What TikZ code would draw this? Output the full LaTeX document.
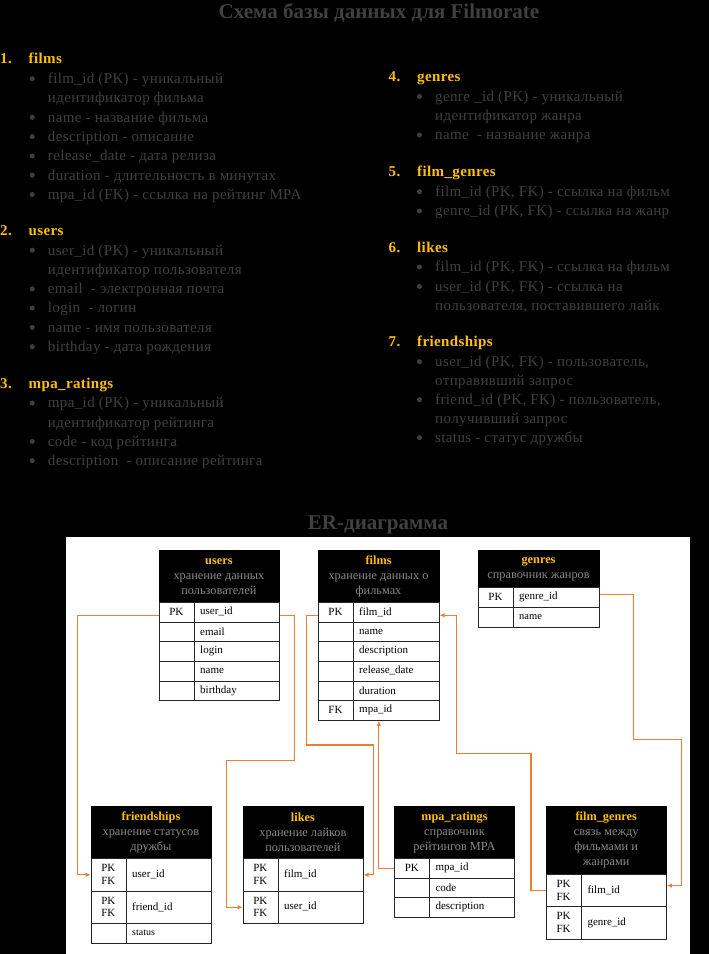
\documentclass[tikz,border=0pt]{standalone}
\usepackage{fontspec}
\setmainfont{Liberation Serif}
\newfontfamily\listfont[LetterSpace=2.5]{Liberation Serif}
\usetikzlibrary{arrows.meta}
\definecolor{hdr}{HTML}{FFC000}
\definecolor{bodyc}{HTML}{404040}
\definecolor{subc}{HTML}{8A8A8A}
\definecolor{connc}{HTML}{ED7D31}
\tikzset{
  titletext/.style={text=bodyc, font=\fontsize{21}{24}\selectfont\bfseries, inner sep=0},
  listnum/.style={anchor=base west, text=hdr, font=\listfont\fontsize{15}{17}\selectfont\bfseries, inner sep=0},
  listitem/.style={anchor=base west, text=bodyc, font=\listfont\fontsize{15}{17}\selectfont, inner sep=0},
  bulletdot/.style={circle, fill=bodyc, draw=none, inner sep=0, minimum size=5pt},
  hdrbox/.style={draw=black, fill=black, anchor=north west, inner sep=0, align=center, text=subc, font=\fontsize{12.3}{15}\selectfont},
  rowbox/.style={draw=black!85, line width=0.9pt, fill=white, anchor=north west, inner sep=0},
  rowline/.style={draw=black!85, line width=0.9pt},
  keytext/.style={align=center, inner sep=0, font=\fontsize{11}{12.5}\selectfont},
  fieldtext/.style={anchor=west, inner sep=0, font=\fontsize{11}{13}\selectfont},
  conn/.style={draw=connc, line width=1.3pt},
  connarrow/.style={conn, -{Latex[length=5pt,width=4.5pt]}},
}
\newcommand\lhead[5]{\node[listnum] (#1n) at (#2,#4) {#3}; \node[listnum] (#1) at (#2+28.5,#4) {#5};}
\newcommand\litem[4]{\node[bulletdot] (#1b) at (#2-15.5,#3-4.8) {}; \node[listitem] (#1) at (#2,#3) {#4};}
\newcommand\lcont[4]{\node[listitem] (#1) at (#2,#3) {#4};}
\newcommand\setT[3]{\def\tL{#1}\def\tR{#2}\def\tD{#3}\pgfmathsetmacro\tW{#2-#1}}
\newcommand\ehdr[4]{\pgfmathsetmacro\hh{#3-#2}%
  \node[hdrbox, minimum width=\tW pt, minimum height=\hh pt] (#1) at (\tL,#2) {#4};}
\newcommand\trow[6][]{\pgfmathsetmacro\hh{#4-#3}%
  \node[rowbox, minimum width=\tW pt, minimum height=\hh pt] (#2) at (\tL,#3) {};
  \draw[rowline] (\tD,#3) -- (\tD,#4);
  \node[keytext] (#2k) at ({(\tL+\tD)/2},{(#3+#4)/2}) {#5};
  \node[fieldtext,#1] (#2f) at (\tD+6,{(#3+#4)/2}) {#6};}
\begin{document}
\begin{tikzpicture}[x=1pt,y=-1pt]
\useasboundingbox (0,0) rectangle (709,954);
\fill[black] (0,0) rectangle (709,954);
\node[titletext] (title) at (379,13) {Схема базы данных для Filmorate};
% ---- left column ----
\lhead{h1}{0}{1.}{63.3}{films}
\litem{a1}{47.7}{83.5}{film\_id (PK) - уникальный}
\lcont{a1c}{47.7}{102.8}{идентификатор фильма}
\litem{a2}{47.7}{122.1}{name - название фильма}
\litem{a3}{47.7}{141.4}{description - описание}
\litem{a4}{47.7}{160.7}{release\_date - дата релиза}
\litem{a5}{47.7}{180}{duration - длительность в минутах}
\litem{a6}{47.7}{199.3}{mpa\_id (FK) - ссылка на рейтинг MPA}
\lhead{h2}{0}{2.}{235.7}{users}
\litem{b1}{47.7}{255}{user\_id (PK) - уникальный}
\lcont{b1c}{47.7}{274.3}{идентификатор пользователя}
\litem{b2}{47.7}{293.6}{email\ \ - электронная почта}
\litem{b3}{47.7}{312.9}{login\ \ - логин}
\litem{b4}{47.7}{332.2}{name - имя пользователя}
\litem{b5}{47.7}{351.5}{birthday - дата рождения}
\lhead{h3}{0}{3.}{388.7}{mpa\_ratings}
\litem{c1}{47.7}{407.8}{mpa\_id (PK) - уникальный}
\lcont{c1c}{47.7}{427}{идентификатор рейтинга}
\litem{c2}{47.7}{446.2}{code - код рейтинга}
\litem{c3}{47.7}{465.5}{description\ \ - описание рейтинга}
% ---- right column ----
\lhead{h4}{388.5}{4.}{81}{genres}
\litem{d1}{435}{101.3}{genre \_id (PK) - уникальный}
\lcont{d1c}{435}{120.5}{идентификатор жанра}
\litem{d2}{435}{139.8}{name\ \ - название жанра}
\lhead{h5}{388.5}{5.}{176.7}{film\_genres}
\litem{e1}{435}{196.5}{film\_id (PK, FK) - ссылка на фильм}
\litem{e2}{435}{215.8}{genre\_id (PK, FK) - ссылка на жанр}
\lhead{h6}{388.5}{6.}{252.7}{likes}
\litem{f1}{435}{271.8}{film\_id (PK, FK) - ссылка на фильм}
\litem{f2}{435}{291.2}{user\_id (PK, FK) - ссылка на}
\lcont{f2c}{435}{310}{пользователя, поставившего лайк}
\lhead{h7}{388.5}{7.}{346.7}{friendships}
\litem{g1}{435}{366.5}{user\_id (PK, FK) - пользователь,}
\lcont{g1c}{435}{385}{отправивший запрос}
\litem{g2}{435}{404.5}{friend\_id (PK, FK) - пользователь,}
\lcont{g2c}{435}{423}{получивший запрос}
\litem{g3}{435}{442.5}{status - статус дружбы}
% ---- ER diagram ----
\node[titletext] (ertitle) at (378,525) {ER-диаграмма};
\fill[white] (66,537) rectangle (690,954);
% users
\setT{158.7}{278.7}{194}
\ehdr{usersH}{550}{602}{{\color{hdr}\bfseries users}\\хранение данных\\пользователей}
\trow{usersR1}{602}{621.7}{PK}{user\_id}
\trow{usersR2}{621.7}{641.3}{}{email}
\trow{usersR3}{641.3}{661}{}{login}
\trow{usersR4}{661}{680.7}{}{name}
\trow{usersR5}{680.7}{700.3}{}{birthday}
% films
\setT{318}{438.7}{353}
\ehdr{filmsH}{550}{602}{{\color{hdr}\bfseries films}\\хранение данных о\\фильмах}
\trow{filmsR1}{602}{621.7}{PK}{film\_id}
\trow{filmsR2}{621.7}{641.3}{}{name}
\trow{filmsR3}{641.3}{661}{}{description}
\trow{filmsR4}{661}{680.7}{}{release\_date}
\trow{filmsR5}{680.7}{700.3}{}{duration}
\trow{filmsR6}{700.3}{720}{FK}{mpa\_id}
% genres
\setT{478}{598.7}{513}
\ehdr{genresH}{550}{587}{{\color{hdr}\bfseries genres}\\справочник жанров}
\trow{genresR1}{587}{607}{PK}{genre\_id}
\trow[font=\fontsize{10.5}{12}\selectfont]{genresR2}{607}{627}{}{name}
% friendships
\setT{90.7}{210.7}{126}
\ehdr{friendsH}{806}{858}{{\color{hdr}\bfseries friendships}\\хранение статусов\\дружбы}
\trow{friendsR1}{858}{890.7}{PK\\FK}{user\_id}
\trow{friendsR2}{890.7}{923}{PK\\FK}{friend\_id}
\trow[font=\fontsize{10}{12}\selectfont]{friendsR3}{923}{942.7}{}{status}
% likes
\setT{242.7}{362.7}{278}
\ehdr{likesH}{806}{858}{{\color{hdr}\bfseries likes}\\хранение лайков\\пользователей}
\trow{likesR1}{858}{890.7}{PK\\FK}{film\_id}
\trow{likesR2}{890.7}{923}{PK\\FK}{user\_id}
% mpa_ratings
\setT{394.3}{514.3}{429.3}
\ehdr{mpaH}{806}{858}{{\color{hdr}\bfseries mpa\_ratings}\\справочник\\рейтингов MPA}
\trow{mpaR1}{858}{877.7}{PK}{mpa\_id}
\trow{mpaR2}{877.7}{897.3}{}{code}
\trow{mpaR3}{897.3}{917}{}{description}
% film_genres
\setT{546}{666}{581.3}
\ehdr{fgH}{806}{874}{{\color{hdr}\bfseries film\_genres}\\связь между\\фильмами и\\жанрами}
\trow{fgR1}{874}{906.3}{PK\\FK}{film\_id}
\trow{fgR2}{906.3}{938.7}{PK\\FK}{genre\_id}
% ---- connectors ----
\draw[connarrow] ([yshift=-3pt]usersR1.west) -| (77.7,800) |- (friendsR1.west);
\draw[connarrow] ([yshift=-3pt]usersR1.east) -| (294.3,760.7) -- (226.7,760.7) |- (likesR2.west);
\draw[connarrow] ([yshift=-3pt]filmsR1.west) -| (306.7,745) -- (373.3,745) |- (likesR1.east);
\draw[connarrow] (mpaR1.west) -| (filmsR6.south);
\draw[connarrow] (fgR1.west) -| (531,753.3) -- (456.7,753.3) |- ([yshift=-3pt]filmsR1.east);
\draw[connarrow] ([yshift=3pt]genresR1.east) -| (633.3,739.3) -- (681.7,739.3) |- ([yshift=5pt]fgR1.east);
\end{tikzpicture}
\end{document}
